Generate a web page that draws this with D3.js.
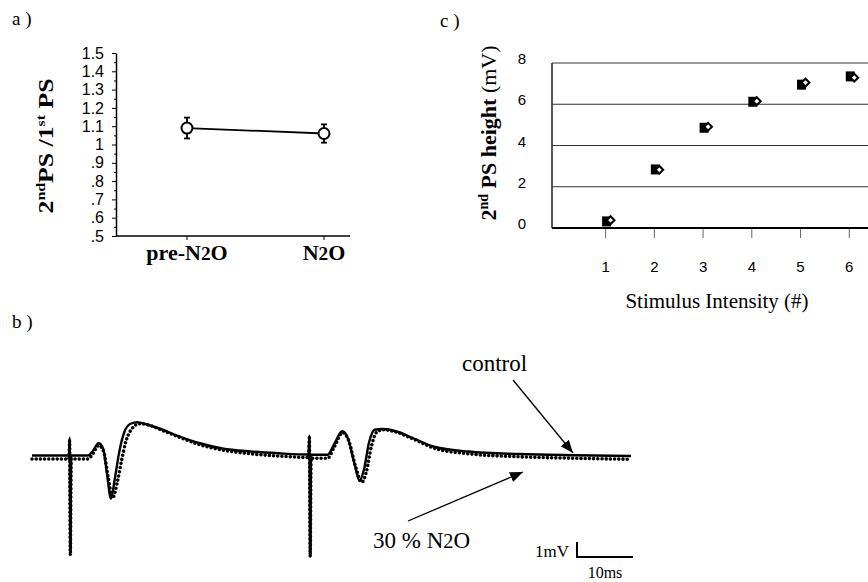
<!DOCTYPE html>
<html>
<head>
<meta charset="utf-8">
<script src="https://cdn.jsdelivr.net/npm/d3@7"></script>
<style>
  body { margin: 0; background: #fff; }
  svg { display: block; }
</style>
</head>
<body>
<svg id="chart" width="868" height="582"></svg>
<script>
// ---- panel a : paired pulse ratio
const conditions = ['pre-N2O', 'N2O']
const ratioMean = [1.09, 1.06]
const ratioErr = [0.057, 0.05]
const ratioTicks = [0.5, 0.6, 0.7, 0.8, 0.9, 1.0, 1.1, 1.2, 1.3, 1.4, 1.5]
const ratioTickLabels = ['.5', '.6', '.7', '.8', '.9', '1', '1.1', '1.2', '1.3', '1.4', '1.5']

// ---- panel c : input / output
const intensity = [1, 2, 3, 4, 5, 6]
const psSquare = [0.32, 2.84, 4.86, 6.12, 6.95, 7.35]
const psDiamond = [0.38, 2.82, 4.91, 6.15, 7.05, 7.29]
const psTicks = [0, 2, 4, 6, 8]

// ---- panel b : field potential traces (ms, mV)
const controlT = [0, 6.6, 6.72, 6.85, 7.0, 10.0, 10.8, 11.9, 12.7, 13.4, 14.1, 14.8, 15.6, 16.5, 17.6, 18.8, 20.5, 23, 26, 30, 34, 39, 44,
  49.4, 49.55, 49.7, 49.85, 52.8, 54, 55.4, 56.4, 57.6, 58.5, 59.3, 60.2, 61.2, 62.6, 65, 68, 72, 78, 87, 97, 107]
const controlV = [0.03, 0.03, 1.2, -6.5, 0.03, 0.03, 0.3, 0.85, 0.5, -1.2, -2.85, -1.5, 0.3, 1.6, 2.15, 2.25, 2.1, 1.8, 1.35, 0.85, 0.5, 0.3, 0.18,
  0.1, 1.35, -6.6, 0.08, 0.08, 0.8, 1.65, 1.2, -0.5, -1.65, -0.9, 0.9, 1.75, 1.8, 1.65, 1.2, 0.6, 0.3, 0.13, 0.05, 0]
const n2oT = [0, 6.6, 6.72, 6.85, 7.0, 10.0, 10.8, 11.9, 12.8, 13.6, 14.4, 15.2, 16.0, 16.8, 17.8, 19.2, 21, 23, 26, 30, 34, 39, 44,
  49.4, 49.55, 49.7, 49.85, 52.8, 54, 55.5, 56.6, 57.8, 58.9, 59.7, 60.6, 61.6, 62.8, 65, 68, 72, 78, 87, 97, 107]
const n2oV = [-0.2, -0.2, 1.0, -6.6, -0.2, -0.2, 0.1, 0.7, 0.3, -1.4, -2.8, -1.8, -0.3, 1.0, 1.8, 2.15, 2.05, 1.75, 1.3, 0.75, 0.4, 0.15, 0.0,
  -0.1, 1.2, -6.7, -0.15, -0.15, 0.6, 1.55, 1.0, -0.7, -1.75, -1.1, 0.6, 1.6, 1.75, 1.6, 1.15, 0.5, 0.15, -0.05, -0.15, -0.22]

const serif = '"Liberation Serif", "Times New Roman", serif'
const sans = '"Liberation Sans", Arial, sans-serif'

const svg = d3.select('#chart')

// N2O style label: "2" a bit smaller
const addChem = (sel, str) => {
  str.split(/(2)/).forEach(part => {
    if (part === '') return
    if (part === '2') sel.append('tspan').attr('font-size', '0.88em').text('2')
    else sel.append('tspan').text(part)
  })
}

// panel letters
const letters = [{ t: 'a )', x: 12, y: 25 }, { t: 'c )', x: 440, y: 27 }, { t: 'b )', x: 12, y: 328 }]
svg.selectAll('.letter')
  .data(letters)
  .enter()
  .append('text')
  .attr('x', d => d.x)
  .attr('y', d => d.y)
  .style('font-family', serif)
  .style('font-size', '19px')
  .text(d => d.t)

// ================= panel a =================
const xA = d3.scalePoint().domain(conditions).range([187, 324])
const yA = d3.scaleLinear().domain([0.5, 1.5]).range([236, 53])
const axLeftA = 116, axRightA = 350

const gA = svg.append('g')

const yAxisA = d3.axisLeft(yA)
  .tickValues(ratioTicks)
  .tickFormat((d, i) => ratioTickLabels[i])
  .tickSize(4)
  .tickSizeOuter(0)
  .tickPadding(8)

gA.append('g')
  .attr('transform', 'translate(' + axLeftA + ',0)')
  .call(yAxisA)
  .call(g => g.select('.domain').attr('stroke-width', 1.5))
  .call(g => g.selectAll('text').style('font-family', sans).style('font-size', '16px').attr('fill', '#000'))

// minor ticks
gA.append('g')
  .attr('transform', 'translate(' + axLeftA + ',0)')
  .call(d3.axisLeft(yA).tickValues(ratioTicks.slice(1).map(v => v - 0.05)).tickSize(2).tickFormat(''))
  .call(g => g.select('.domain').remove())

gA.append('line')
  .attr('x1', axLeftA).attr('x2', axRightA)
  .attr('y1', yA(0.5)).attr('y2', yA(0.5))
  .attr('stroke', '#000').attr('stroke-width', 1.5)

gA.selectAll('.ctick')
  .data(conditions)
  .enter()
  .append('line')
  .attr('x1', d => xA(d)).attr('x2', d => xA(d))
  .attr('y1', yA(0.5)).attr('y2', yA(0.5) + 4)
  .attr('stroke', '#000')

gA.selectAll('.clabel')
  .data(conditions)
  .enter()
  .append('text')
  .attr('x', d => xA(d))
  .attr('y', 260)
  .attr('text-anchor', 'middle')
  .style('font-family', serif)
  .style('font-size', '22px')
  .style('font-weight', 'bold')
  .each(function (d) { addChem(d3.select(this), d) })

// y label
const yLabA = gA.append('text')
  .attr('transform', 'translate(53,146) rotate(-90)')
  .attr('text-anchor', 'middle')
  .attr('textLength', 135)
  .attr('lengthAdjust', 'spacingAndGlyphs')
  .style('font-family', serif)
  .style('font-size', '21px')
  .style('font-weight', 'bold')
yLabA.append('tspan').text('2')
yLabA.append('tspan').attr('font-size', '13px').attr('dy', -8).text('nd')
yLabA.append('tspan').attr('dy', 8).text('PS /1')
yLabA.append('tspan').attr('font-size', '13px').attr('dy', -8).text('st')
yLabA.append('tspan').attr('dy', 8).text(' PS')

const ratioPts = conditions.map((c, i) => ({ c, m: ratioMean[i], e: ratioErr[i] }))

gA.append('path')
  .datum(ratioPts)
  .attr('d', d3.line().x(d => xA(d.c)).y(d => yA(d.m)))
  .attr('fill', 'none').attr('stroke', '#000').attr('stroke-width', 1.8)

const eb = gA.selectAll('.eb').data(ratioPts).enter().append('g')
eb.append('line')
  .attr('x1', d => xA(d.c)).attr('x2', d => xA(d.c))
  .attr('y1', d => yA(d.m - d.e)).attr('y2', d => yA(d.m + d.e))
  .attr('stroke', '#000').attr('stroke-width', 1.8)
eb.selectAll('.cap')
  .data(d => [d.m - d.e, d.m + d.e].map(v => ({ c: d.c, v })))
  .enter()
  .append('line')
  .attr('x1', d => xA(d.c) - 3).attr('x2', d => xA(d.c) + 3)
  .attr('y1', d => yA(d.v)).attr('y2', d => yA(d.v))
  .attr('stroke', '#000').attr('stroke-width', 1.8)
eb.append('circle')
  .attr('cx', d => xA(d.c)).attr('cy', d => yA(d.m))
  .attr('r', 5.5)
  .attr('fill', '#fff').attr('stroke', '#000').attr('stroke-width', 2)

// ================= panel c =================
const xC = d3.scaleLinear().domain([-0.1, 7]).range([552, 898])
const yC = d3.scaleLinear().domain([0, 8]).range([228, 63])
const gC = svg.append('g')

gC.selectAll('.grid')
  .data(psTicks.slice(1))
  .enter()
  .append('line')
  .attr('x1', xC(-0.1)).attr('x2', 868)
  .attr('y1', d => yC(d)).attr('y2', d => yC(d))
  .attr('stroke', '#333').attr('stroke-width', 1)

gC.append('line')
  .attr('x1', xC(-0.1)).attr('x2', xC(-0.1))
  .attr('y1', yC(8)).attr('y2', yC(0))
  .attr('stroke', '#222').attr('stroke-width', 1.5)

gC.append('line')
  .attr('x1', xC(-0.1)).attr('x2', 868)
  .attr('y1', yC(0)).attr('y2', yC(0))
  .attr('stroke', '#000').attr('stroke-width', 2)

gC.selectAll('.xt')
  .data(intensity)
  .enter()
  .append('line')
  .attr('x1', d => xC(d)).attr('x2', d => xC(d))
  .attr('y1', yC(0) + 1).attr('y2', yC(0) + 10)
  .attr('stroke', '#666').attr('stroke-width', 1)

gC.selectAll('.xl')
  .data(intensity)
  .enter()
  .append('text')
  .attr('x', d => xC(d))
  .attr('y', 272)
  .attr('text-anchor', 'middle')
  .style('font-family', sans)
  .style('font-size', '15px')
  .text(d => d)

gC.selectAll('.yl')
  .data(psTicks)
  .enter()
  .append('text')
  .attr('x', 526)
  .attr('y', d => yC(d) + 1)
  .attr('text-anchor', 'end')
  .style('font-family', sans)
  .style('font-size', '15px')
  .text(d => d)

gC.append('text')
  .attr('x', 717)
  .attr('y', 308)
  .attr('text-anchor', 'middle')
  .style('font-family', serif)
  .style('font-size', '21px')
  .text('Stimulus Intensity (#)')

const yLabC = gC.append('text')
  .attr('transform', 'translate(496,133) rotate(-90)')
  .attr('text-anchor', 'middle')
  .style('font-family', serif)
  .style('font-size', '22px')
yLabC.append('tspan').style('font-weight', 'bold').text('2')
yLabC.append('tspan').style('font-weight', 'bold').attr('font-size', '14px').attr('dy', -8).text('nd')
yLabC.append('tspan').style('font-weight', 'bold').attr('dy', 8).text(' PS height ')
yLabC.append('tspan').text('(mV)')

gC.selectAll('.sq')
  .data(intensity.map((d, i) => ({ x: d, y: psSquare[i] })))
  .enter()
  .append('rect')
  .attr('x', d => xC(d.x) + 1 - 4.5)
  .attr('y', d => yC(d.y) - 5)
  .attr('width', 9).attr('height', 10)
  .attr('fill', '#000')

gC.selectAll('.dm')
  .data(intensity.map((d, i) => ({ x: d, y: psDiamond[i] })))
  .enter()
  .append('path')
  .attr('d', d3.symbol(d3.symbolSquare, 30))
  .attr('transform', d => 'translate(' + (xC(d.x) + 5) + ',' + yC(d.y) + ') rotate(45)')
  .attr('fill', '#fff').attr('stroke', '#000').attr('stroke-width', 2)

// ================= panel b =================
const xB = d3.scaleLinear().domain([0, 107]).range([32, 631])
const yB = d3.scaleLinear().domain([0, 1]).range([456, 441])
const gB = svg.append('g')

const traceLine = d3.line()
  .x(d => xB(d[0]))
  .y(d => yB(d[1]))
  .curve(d3.curveMonotoneX)

gB.append('path')
  .datum(n2oT.map((t, i) => [t, n2oV[i]]))
  .attr('d', traceLine)
  .attr('fill', 'none')
  .attr('stroke', '#000')
  .attr('stroke-width', 3.6)
  .attr('stroke-linecap', 'round')
  .attr('stroke-dasharray', '0 4.2')

gB.append('path')
  .datum(controlT.map((t, i) => [t, controlV[i]]))
  .attr('d', traceLine)
  .attr('fill', 'none')
  .attr('stroke', '#000')
  .attr('stroke-width', 2.4)

svg.append('defs').append('marker')
  .attr('id', 'head')
  .attr('viewBox', '0 0 10 10')
  .attr('refX', 10).attr('refY', 5)
  .attr('markerWidth', 13).attr('markerHeight', 13)
  .attr('markerUnits', 'userSpaceOnUse')
  .attr('orient', 'auto')
  .append('path')
  .attr('d', 'M0,1 L10,5 L0,9 z')
  .attr('fill', '#000')

const notes = [
  { t: 'control', x: 462, y: 371, ax1: 513, ay1: 380, ax2: 573, ay2: 453 },
  { t: '30 % N2O', x: 373, y: 548, ax1: 408, ay1: 521, ax2: 523, ay2: 472 }
]
gB.selectAll('.arrow')
  .data(notes)
  .enter()
  .append('line')
  .attr('x1', d => d.ax1).attr('y1', d => d.ay1)
  .attr('x2', d => d.ax2).attr('y2', d => d.ay2)
  .attr('stroke', '#000').attr('stroke-width', 1.3)
  .attr('marker-end', 'url(#head)')
gB.selectAll('.note')
  .data(notes)
  .enter()
  .append('text')
  .attr('x', d => d.x)
  .attr('y', d => d.y)
  .style('font-family', serif)
  .style('font-size', '23px')
  .each(function (d) { addChem(d3.select(this), d.t) })

// scale bar: 1 mV / 10 ms
const barX = 577, barY = 557
gB.append('path')
  .attr('d', 'M' + barX + ',' + (barY - (yB(0) - yB(1))) + ' V' + barY + ' H' + (barX + xB(10) - xB(0)))
  .attr('fill', 'none').attr('stroke', '#000').attr('stroke-width', 2)
gB.append('text')
  .attr('x', barX - 8).attr('y', barY)
  .attr('text-anchor', 'end')
  .style('font-family', serif).style('font-size', '17px')
  .text('1mV')
gB.append('text')
  .attr('x', barX + (xB(10) - xB(0)) / 2).attr('y', 578)
  .attr('text-anchor', 'middle')
  .style('font-family', serif).style('font-size', '16px')
  .text('10ms')
</script>
</body>
</html>
